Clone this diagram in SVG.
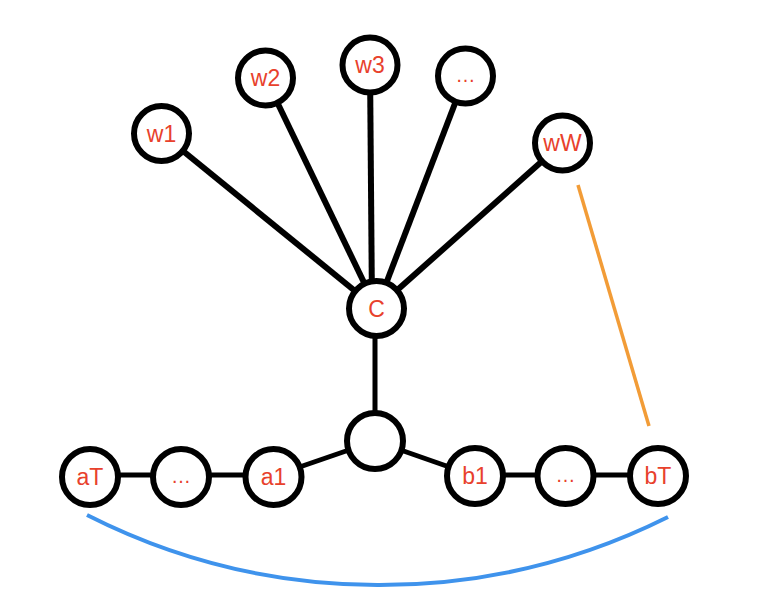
<svg xmlns="http://www.w3.org/2000/svg" width="768" height="607" viewBox="0 0 768 607">
<style>
.n{fill:#fff;stroke:#000;stroke-width:6}
.t{fill:#e8412c;font-family:"Liberation Sans",Arial,sans-serif;font-size:23px;text-anchor:middle}
.d{font-size:20px}
.e{stroke:#000;stroke-linecap:butt;fill:none}
</style>
<rect width="768" height="607" fill="#fff"/>
<g id="connectors">
<line class="e" stroke-width="6" x1="161.5" y1="133.5" x2="376.5" y2="308.5"/>
<line class="e" stroke-width="6" x1="265.5" y1="78" x2="376.5" y2="308.5"/>
<line class="e" stroke-width="6" x1="370" y1="65" x2="372" y2="308.5"/>
<line class="e" stroke-width="6" x1="465.5" y1="76" x2="376.5" y2="308.5"/>
<line class="e" stroke-width="6" x1="562.5" y1="143" x2="376.5" y2="308.5"/>
<line class="e" stroke-width="5" x1="375" y1="308.5" x2="375" y2="441"/>
<line class="e" stroke-width="5" x1="375" y1="441" x2="273.5" y2="476"/>
<line class="e" stroke-width="5" x1="375" y1="441" x2="475" y2="476"/>
<line class="e" stroke-width="5" x1="90" y1="475" x2="273.5" y2="475"/>
<line class="e" stroke-width="5" x1="475" y1="475" x2="658" y2="475"/>
<line stroke="#f29c37" stroke-width="3.5" x1="578" y1="185" x2="649" y2="426"/>
<path d="M87 515 A646 646 0 0 0 668 517" fill="none" stroke="#3f93ec" stroke-width="4"/>
</g>
<g id="w1"><circle class="n" cx="161.5" cy="133.5" r="27.5"/><text class="t" x="161.5" y="141.5">w1</text></g>
<g id="w2"><circle class="n" cx="265.5" cy="78" r="27.5"/><text class="t" x="265.5" y="86">w2</text></g>
<g id="w3"><circle class="n" cx="370" cy="65" r="27.5"/><text class="t" x="370" y="73">w3</text></g>
<g id="wdots"><circle class="n" cx="465.5" cy="76" r="27.5"/><text class="t d" x="465.5" y="82">…</text></g>
<g id="wW"><circle class="n" cx="562.5" cy="143" r="27.5"/><text class="t" x="562.5" y="151">wW</text></g>
<g id="C"><circle class="n" cx="376.5" cy="308.5" r="27.5"/><text class="t" x="376.5" y="316.5">C</text></g>
<g id="hub"><circle class="n" cx="375" cy="441" r="28"/></g>
<g id="aT"><circle class="n" cx="90" cy="477" r="28"/><text class="t" x="90" y="485">aT</text></g>
<g id="adots"><circle class="n" cx="181" cy="477" r="28"/><text class="t d" x="181" y="483">…</text></g>
<g id="a1"><circle class="n" cx="273.5" cy="477" r="28"/><text class="t" x="273.5" y="485">a1</text></g>
<g id="b1"><circle class="n" cx="475" cy="476" r="28"/><text class="t" x="475" y="484">b1</text></g>
<g id="bdots"><circle class="n" cx="565.5" cy="476" r="28"/><text class="t d" x="565.5" y="482">…</text></g>
<g id="bT"><circle class="n" cx="658" cy="476" r="28"/><text class="t" x="658" y="484">bT</text></g>
</svg>
